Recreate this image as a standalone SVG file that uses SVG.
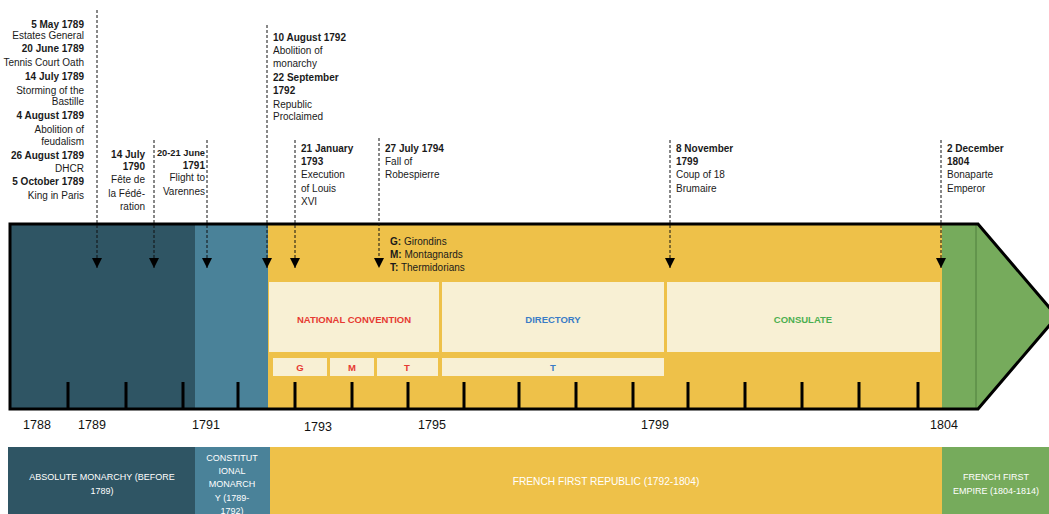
<svg xmlns="http://www.w3.org/2000/svg" width="1049" height="514" viewBox="0 0 1049 514">
<defs>
<style>
text{font-family:"Liberation Sans",Arial,sans-serif;}
.ev{font-size:10px;fill:#1a1a1a;}
.b{font-weight:bold;}
.r{text-anchor:end;}
.yr{font-size:12.5px;fill:#111;text-anchor:middle;}
.box{fill:#f8f0d4;}
.bl{font-size:9.5px;font-weight:bold;text-anchor:middle;}
.band{font-size:9px;fill:#fff;text-anchor:middle;}
.tick{stroke:#000;stroke-width:3;}
.dash{stroke:#111;stroke-width:1;stroke-dasharray:3 2;fill:none;}
</style>
<marker id="ah" viewBox="0 0 10 10" refX="10" refY="5" markerWidth="10" markerHeight="10" markerUnits="userSpaceOnUse" orient="auto">
<path d="M0,0 L10,5 L0,10 z" fill="#000"/>
</marker>
</defs>
<rect width="1049" height="514" fill="#fff"/>

<g id="timeline-bar">
<rect x="10" y="224" width="185" height="185" fill="#2f5564"/>
<rect x="195" y="224" width="73" height="185" fill="#4a8299"/>
<rect x="268" y="224" width="674" height="185" fill="#eec149"/>
<rect x="942" y="224" width="36" height="185" fill="#76ab5c"/>
<polygon points="976,224 978,224 1057,316.5 978,409 976,409" fill="#76ab5c"/>
<line x1="976" y1="225" x2="976" y2="408" stroke="#4f7f3c" stroke-width="1"/>
<polygon points="10,224 978,224 1057,316.5 978,409 10,409" fill="none" stroke="#000" stroke-width="3" stroke-linejoin="miter"/>
</g>

<g id="ticks">
<line class="tick" x1="68" y1="382" x2="68" y2="409"/>
<line class="tick" x1="126" y1="382" x2="126" y2="409"/>
<line class="tick" x1="183" y1="382" x2="183" y2="409"/>
<line class="tick" x1="238" y1="382" x2="238" y2="409"/>
<line class="tick" x1="295" y1="382" x2="295" y2="409"/>
<line class="tick" x1="352" y1="382" x2="352" y2="409"/>
<line class="tick" x1="408" y1="382" x2="408" y2="409"/>
<line class="tick" x1="464" y1="382" x2="464" y2="409"/>
<line class="tick" x1="519" y1="382" x2="519" y2="409"/>
<line class="tick" x1="576" y1="382" x2="576" y2="409"/>
<line class="tick" x1="633" y1="382" x2="633" y2="409"/>
<line class="tick" x1="688" y1="382" x2="688" y2="409"/>
<line class="tick" x1="745" y1="382" x2="745" y2="409"/>
<line class="tick" x1="802" y1="382" x2="802" y2="409"/>
<line class="tick" x1="859" y1="382" x2="859" y2="409"/>
<line class="tick" x1="918" y1="382" x2="918" y2="409"/>
</g>

<g id="years">
<text class="yr" x="37" y="429">1788</text>
<text class="yr" x="92" y="429">1789</text>
<text class="yr" x="206" y="429">1791</text>
<text class="yr" x="318" y="431">1793</text>
<text class="yr" x="432" y="429">1795</text>
<text class="yr" x="655" y="429">1799</text>
<text class="yr" x="944" y="429">1804</text>
</g>

<g id="national-convention">
<rect class="box" x="269" y="282" width="170" height="70"/>
<text class="bl" x="354" y="322.5" fill="#e63a32">NATIONAL CONVENTION</text>
</g>
<g id="directory">
<rect class="box" x="442" y="282" width="222" height="70"/>
<text class="bl" x="553" y="322.5" fill="#3a7cc6">DIRECTORY</text>
</g>
<g id="consulate">
<rect class="box" x="667" y="282" width="273" height="70"/>
<text class="bl" x="803" y="322.5" fill="#4caf50">CONSULATE</text>
</g>
<g id="faction-g">
<rect class="box" x="273" y="358" width="54" height="18"/>
<text class="bl" x="300" y="371" fill="#e63a32">G</text>
</g>
<g id="faction-m">
<rect class="box" x="330" y="358" width="44" height="18"/>
<text class="bl" x="352" y="371" fill="#e63a32">M</text>
</g>
<g id="faction-t">
<rect class="box" x="377" y="358" width="61" height="18"/>
<text class="bl" x="407" y="371" fill="#e63a32">T</text>
</g>
<g id="faction-t-directory">
<rect class="box" x="442" y="358" width="222" height="18"/>
<text class="bl" x="553" y="371" fill="#3a7cc6">T</text>
</g>

<g id="legend">
<text class="ev" x="390" y="245"><tspan class="b">G:</tspan> Girondins</text>
<text class="ev" x="390" y="258"><tspan class="b">M:</tspan> Montagnards</text>
<text class="ev" x="390" y="271"><tspan class="b">T:</tspan> Thermidorians</text>
</g>

<g id="connectors">
<line class="dash" x1="97" y1="10" x2="97" y2="268" marker-end="url(#ah)"/>
<line class="dash" x1="154" y1="140" x2="154" y2="268" marker-end="url(#ah)"/>
<line class="dash" x1="207" y1="140" x2="207" y2="268" marker-end="url(#ah)"/>
<line class="dash" x1="267" y1="25" x2="267" y2="268" marker-end="url(#ah)"/>
<line class="dash" x1="295" y1="140" x2="295" y2="268" marker-end="url(#ah)"/>
<line class="dash" x1="379" y1="138" x2="379" y2="268" marker-end="url(#ah)"/>
<line class="dash" x1="670" y1="140" x2="670" y2="268" marker-end="url(#ah)"/>
<line class="dash" x1="941" y1="140" x2="941" y2="268" marker-end="url(#ah)"/>
</g>

<g id="events-1789">
<text class="ev b r" x="84" y="27.5">5 May 1789</text>
<text class="ev r" x="84" y="39">Estates General</text>
<text class="ev b r" x="84" y="52">20 June 1789</text>
<text class="ev r" x="84" y="66">Tennis Court Oath</text>
<text class="ev b r" x="84" y="79.5">14 July 1789</text>
<text class="ev r" x="84" y="93.5">Storming of the</text>
<text class="ev r" x="84" y="105">Bastille</text>
<text class="ev b r" x="84" y="118.5">4 August 1789</text>
<text class="ev r" x="84" y="132.5">Abolition of</text>
<text class="ev r" x="84" y="145">feudalism</text>
<text class="ev b r" x="84" y="159">26 August 1789</text>
<text class="ev r" x="84" y="172">DHCR</text>
<text class="ev b r" x="84" y="185">5 October 1789</text>
<text class="ev r" x="84" y="198.5">King in Paris</text>
</g>

<g id="event-1790">
<text class="ev b r" x="145" y="157.5">14 July</text>
<text class="ev b r" x="145" y="170">1790</text>
<text class="ev r" x="145" y="183">Fête de</text>
<text class="ev r" x="145" y="197">la Fédé-</text>
<text class="ev r" x="145" y="209.5">ration</text>
</g>

<g id="event-1791">
<text class="ev b r" x="205" y="156" style="font-size:9.3px">20-21 June</text>
<text class="ev b r" x="205" y="168.5">1791</text>
<text class="ev r" x="205" y="181">Flight to</text>
<text class="ev r" x="205" y="195">Varennes</text>
</g>

<g id="event-1792">
<text class="ev b" x="273" y="41">10 August 1792</text>
<text class="ev" x="273" y="54">Abolition of</text>
<text class="ev" x="273" y="67">monarchy</text>
<text class="ev b" x="273" y="81">22 September</text>
<text class="ev b" x="273" y="94">1792</text>
<text class="ev" x="273" y="108">Republic</text>
<text class="ev" x="273" y="120">Proclaimed</text>
</g>

<g id="event-1793">
<text class="ev b" x="301" y="152">21 January</text>
<text class="ev b" x="301" y="165">1793</text>
<text class="ev" x="301" y="178">Execution</text>
<text class="ev" x="301" y="192">of Louis</text>
<text class="ev" x="301" y="205">XVI</text>
</g>

<g id="event-1794">
<text class="ev b" x="385" y="152">27 July 1794</text>
<text class="ev" x="385" y="165">Fall of</text>
<text class="ev" x="385" y="178">Robespierre</text>
</g>

<g id="event-1799">
<text class="ev b" x="676" y="152">8 November</text>
<text class="ev b" x="676" y="165">1799</text>
<text class="ev" x="676" y="178">Coup of 18</text>
<text class="ev" x="676" y="192">Brumaire</text>
</g>

<g id="event-1804">
<text class="ev b" x="947" y="152">2 December</text>
<text class="ev b" x="947" y="165">1804</text>
<text class="ev" x="947" y="178">Bonaparte</text>
<text class="ev" x="947" y="192">Emperor</text>
</g>

<g id="band-absolute">
<rect x="8" y="447" width="187" height="67" fill="#2f5564"/>
<text class="band" x="102" y="480">ABSOLUTE MONARCHY (BEFORE</text>
<text class="band" x="102" y="494">1789)</text>
</g>
<g id="band-constitutional">
<rect x="195" y="447" width="75" height="67" fill="#4a8299"/>
<text class="band" x="232" y="461">CONSTITUT</text>
<text class="band" x="232" y="474">IONAL</text>
<text class="band" x="232" y="487">MONARCH</text>
<text class="band" x="232" y="501">Y (1789-</text>
<text class="band" x="232" y="514">1792)</text>
</g>
<g id="band-republic">
<rect x="270" y="447" width="672" height="67" fill="#eec149"/>
<text class="band" x="606" y="485" style="font-size:10.2px">FRENCH FIRST REPUBLIC (1792-1804)</text>
</g>
<g id="band-empire">
<rect x="942" y="447" width="107" height="67" fill="#76ab5c"/>
<text class="band" x="996" y="480">FRENCH FIRST</text>
<text class="band" x="996" y="494">EMPIRE (1804-1814)</text>
</g>
</svg>
